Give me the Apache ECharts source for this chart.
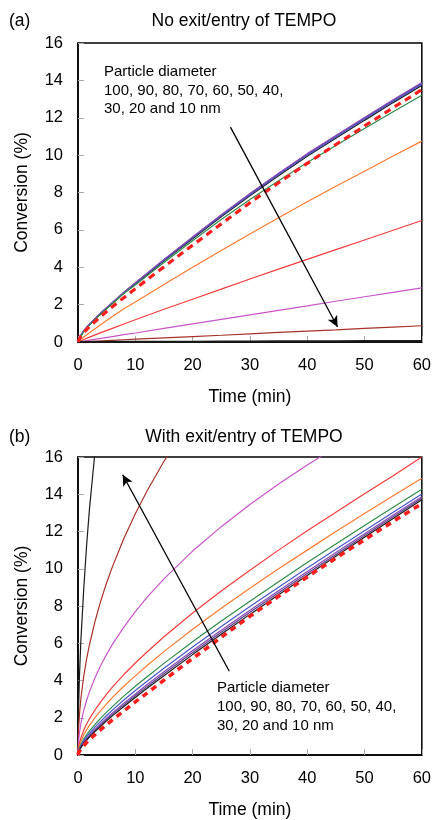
<!DOCTYPE html>
<html>
<head>
<meta charset="utf-8">
<script src="https://cdn.jsdelivr.net/npm/echarts@6/dist/echarts.min.js"></script>
<style>html,body{margin:0;padding:0;background:#fff}#c{width:434px;height:820px}</style>
</head>
<body>
<div id="c"></div>
<script>
// ---- Panel (a): No exit/entry of TEMPO ----
const timeA = [0,0.5,1,2,4,6,8,10,15,20,25,30,35,40,45,50,55,60];
const a100 = [0,0.34,0.58,0.93,1.52,2.07,2.61,3.10,4.34,5.53,6.70,7.83,8.90,9.94,10.90,11.86,12.81,13.73];
const a90  = [0,0.35,0.60,0.95,1.55,2.10,2.65,3.15,4.40,5.60,6.78,7.92,9.00,10.05,11.02,11.98,12.93,13.85];
const a80  = [0,0.36,0.61,0.96,1.57,2.12,2.67,3.17,4.42,5.62,6.81,7.95,9.03,10.08,11.05,12.01,12.96,13.88];
const a70  = [0,0.35,0.60,0.95,1.55,2.10,2.64,3.14,4.38,5.58,6.75,7.88,8.96,10.00,10.97,11.93,12.88,13.80];
const a60  = [0,0.30,0.55,0.90,1.50,2.05,2.60,3.05,4.25,5.42,6.55,7.62,8.63,9.60,10.52,11.42,12.32,13.20];
const a50  = [0,0.14,0.27,0.50,0.94,1.37,1.78,2.14,3.08,4.00,4.90,5.78,6.65,7.50,8.33,9.14,9.95,10.75];
const a40  = [0,0.07,0.13,0.26,0.50,0.73,0.96,1.19,1.75,2.29,2.83,3.37,3.90,4.42,4.94,5.46,5.98,6.50];
const a30  = [0,0.02,0.05,0.10,0.19,0.29,0.39,0.48,0.73,0.97,1.21,1.45,1.69,1.93,2.18,2.42,2.66,2.90];
const a20  = [0,0.01,0.01,0.03,0.06,0.09,0.12,0.15,0.22,0.29,0.36,0.44,0.51,0.58,0.65,0.73,0.80,0.87];
const a10  = [0,0,0,0,0,0.01,0.01,0.01,0.015,0.02,0.025,0.03,0.035,0.04,0.045,0.05,0.055,0.06];
const aBulk= [0,0.32,0.50,0.82,1.37,1.89,2.37,2.85,4.02,5.18,6.32,7.45,8.52,9.56,10.57,11.56,12.54,13.50];

// ---- Panel (b): With exit/entry of TEMPO ----
const timeB = [0,0.1,0.25,0.5,1,1.5,2,3,4,5,6,8,10,12,15,20,25,30,35,40,45,50,55,60];
const b10  = [0,2.55,4.20,6.15,8.90,11.25,13.20,16.40,19.20,null,null,null,null,null,null,null,null,null,null,null,null,null,null,null];
const b20  = [0,1.38,2.16,3.02,4.23,5.15,5.92,7.21,8.30,9.25,10.10,11.62,12.95,14.15,15.77,18.10,null,null,null,null,null,null,null,null];
const b30  = [0,0.74,1.18,1.68,2.39,2.94,3.40,4.18,4.83,5.41,5.94,6.87,7.70,8.45,9.46,10.95,12.26,13.45,14.55,15.57,16.53,null,null,null];
const b40  = [0,0.40,0.64,0.92,1.33,1.66,1.94,2.44,2.87,3.27,3.64,4.32,4.94,5.52,6.35,7.62,8.80,9.92,11.00,12.04,13.04,14.03,14.99,16.00];
const b50  = [0,0.31,0.51,0.73,1.08,1.35,1.59,2.02,2.40,2.75,3.08,3.69,4.25,4.79,5.55,6.75,7.88,8.95,10.00,11.00,12.00,12.97,13.92,14.86];
const b60  = [0,0.24,0.39,0.57,0.85,1.08,1.29,1.65,1.99,2.30,2.60,3.16,3.69,4.19,4.92,6.08,7.19,8.26,9.30,10.33,11.33,12.32,13.30,14.27];
const b70  = [0,0.21,0.34,0.50,0.76,0.97,1.16,1.51,1.82,2.12,2.41,2.95,3.46,3.95,4.66,5.80,6.90,7.97,9.01,10.04,11.05,12.04,13.03,14.01];
const b80  = [0,0.18,0.30,0.45,0.68,0.88,1.06,1.39,1.70,1.98,2.26,2.78,3.28,3.77,4.47,5.61,6.70,7.77,8.82,9.85,10.87,11.88,12.88,13.87];
const b90  = [0,0.165,0.28,0.42,0.65,0.835,1.01,1.33,1.63,1.905,2.18,2.69,3.185,3.67,4.365,5.50,6.59,7.66,8.71,9.745,10.77,11.785,12.79,13.785];
const b100 = [0,0.15,0.26,0.39,0.61,0.79,0.96,1.27,1.56,1.83,2.10,2.60,3.09,3.57,4.26,5.39,6.48,7.55,8.60,9.64,10.67,11.69,12.70,13.70];
const bBulk= [0,0.12,0.21,0.32,0.50,0.67,0.82,1.11,1.37,1.63,1.89,2.37,2.85,3.31,4.02,5.18,6.32,7.45,8.52,9.56,10.57,11.56,12.54,13.50];

const xTicks = [0,10,20,30,40,50,60];
const yTicks = [0,2,4,6,8,10,12,14,16];
const titles = ['No exit/entry of TEMPO','With exit/entry of TEMPO'];
const panelLabels = ['(a)','(b)'];
const noteText = 'Particle diameter\n100, 90, 80, 70, 60, 50, 40,\n30, 20 and 10 nm';
// arrows (data coordinates)
const arrowA = [[26.6,11.5],[45.3,0.8]];
const arrowB = [[26.4,4.5],[7.8,15.05]];

const colors = {d10:'#1a1a1a',d20:'#A8322A',d30:'#C855C8',d40:'#F03C3C',d50:'#FF7A30',d60:'#2E8B4B',d70:'#4656C8',d80:'#8A4CB4',d90:'#5E3E8E',d100:'#1a1a1a',bulk:'#FF1E1E'};

const FONT = '"Liberation Sans", Arial, Helvetica, sans-serif';

function pairs(t, v){ const out=[]; for(let i=0;i<t.length;i++){ if(v[i]!==null) out.push([t[i],v[i]]); } return out; }

function lineSeries(gi, t, v, color, extra){
  return Object.assign({
    type:'line', xAxisIndex:gi, yAxisIndex:gi, data:pairs(t,v), showSymbol:false, symbol:'none',
    smooth:false, clip:true, silent:true,
    lineStyle:{color:color,width:1.2}, itemStyle:{color:color}, z:2
  }, extra||{});
}
function arrowMark(arr){
  return {silent:true, symbol:['none','arrow'], symbolSize:[8,11], label:{show:false},
    lineStyle:{color:'#000',width:1.3,type:'solid'}, emphasis:{disabled:true},
    data:[[{coord:arr[0]},{coord:arr[1]}]]};
}

const series = [
  lineSeries(0,timeA,a100,colors.d100),
  lineSeries(0,timeA,a90,colors.d90),
  lineSeries(0,timeA,a70,colors.d70),
  lineSeries(0,timeA,a80,colors.d80),
  lineSeries(0,timeA,a60,colors.d60),
  lineSeries(0,timeA,a50,colors.d50),
  lineSeries(0,timeA,a40,colors.d40),
  lineSeries(0,timeA,a30,colors.d30),
  lineSeries(0,timeA,a20,colors.d20),
  lineSeries(0,timeA,a10,colors.d10,{lineStyle:{color:colors.d10,width:2}, markLine:arrowMark(arrowA)}),
  lineSeries(0,timeA,aBulk,colors.bulk,{lineStyle:{color:colors.bulk,width:3.2,type:[7,5]}, z:3}),

  lineSeries(1,timeB,b10,colors.d10),
  lineSeries(1,timeB,b20,colors.d20),
  lineSeries(1,timeB,b30,colors.d30),
  lineSeries(1,timeB,b40,colors.d40),
  lineSeries(1,timeB,b50,colors.d50),
  lineSeries(1,timeB,b60,colors.d60),
  lineSeries(1,timeB,b70,colors.d70),
  lineSeries(1,timeB,b80,colors.d80),
  lineSeries(1,timeB,b90,colors.d90),
  lineSeries(1,timeB,b100,colors.d100,{markLine:arrowMark(arrowB)}),
  lineSeries(1,timeB,bBulk,colors.bulk,{lineStyle:{color:colors.bulk,width:3.6,type:[6,5]}, z:3})
];

function xAxis(gi){
  return {type:'value', gridIndex:gi, min:xTicks[0], max:xTicks[xTicks.length-1], interval:10,
    name:'Time (min)', nameLocation:'middle', nameGap:46,
    nameTextStyle:{color:'#000',fontSize:17.5,fontFamily:FONT},
    axisLine:{show:true,lineStyle:{color:'#000',width:1.5}},
    axisTick:{show:true,inside:true,length:6,lineStyle:{color:'#aaa',width:1}},
    axisLabel:{color:'#000',fontSize:16.5,fontFamily:FONT,margin:15,
      formatter:v=>xTicks.includes(v)?String(v):''},
    splitLine:{show:false}};
}
function yAxis(gi){
  return {type:'value', gridIndex:gi, min:yTicks[0], max:yTicks[yTicks.length-1], interval:2,
    name:'Conversion (%)', nameLocation:'middle', nameGap:47,
    nameTextStyle:{color:'#000',fontSize:17.5,fontFamily:FONT},
    axisLine:{show:true,lineStyle:{color:'#000',width:1.5}},
    axisTick:{show:true,inside:true,length:6,lineStyle:{color:'#aaa',width:1}},
    axisLabel:{color:'#000',fontSize:16.5,fontFamily:FONT,margin:15,
      formatter:v=>yTicks.includes(v)?String(v):''},
    splitLine:{show:false}};
}

const option = {
  animation:false,
  backgroundColor:'#fff',
  title:[
    {text:panelLabels[0], left:9, top:12, padding:0, textStyle:{fontSize:17.5,fontWeight:'normal',color:'#000',fontFamily:FONT}},
    {text:titles[0], left:244, top:12, textAlign:'center', padding:0, textStyle:{fontSize:17.5,fontWeight:'normal',color:'#000',fontFamily:FONT}},
    {text:panelLabels[1], left:9, top:428, padding:0, textStyle:{fontSize:17.5,fontWeight:'normal',color:'#000',fontFamily:FONT}},
    {text:titles[1], left:244, top:428, textAlign:'center', padding:0, textStyle:{fontSize:17.5,fontWeight:'normal',color:'#000',fontFamily:FONT}}
  ],
  grid:[
    {left:78, top:43, width:347, height:299, show:true, borderColor:'#000', borderWidth:1.5, backgroundColor:'transparent'},
    {left:78, top:457, width:346, height:300, show:true, borderColor:'#000', borderWidth:1.5, backgroundColor:'transparent'}
  ],
  xAxis:[xAxis(0), xAxis(1)],
  yAxis:[yAxis(0), yAxis(1)],
  graphic:[
    {type:'text', left:104, top:63, silent:true, style:{text:noteText, fontSize:15, lineHeight:18.5, fill:'#000', fontFamily:FONT}},
    {type:'text', left:217, top:679, silent:true, style:{text:noteText, fontSize:15, lineHeight:18.7, fill:'#000', fontFamily:FONT}}
  ],
  series:series
};

const chart = echarts.init(document.getElementById('c'), null, {renderer:'canvas'});
chart.setOption(option);
</script>
</body>
</html>
